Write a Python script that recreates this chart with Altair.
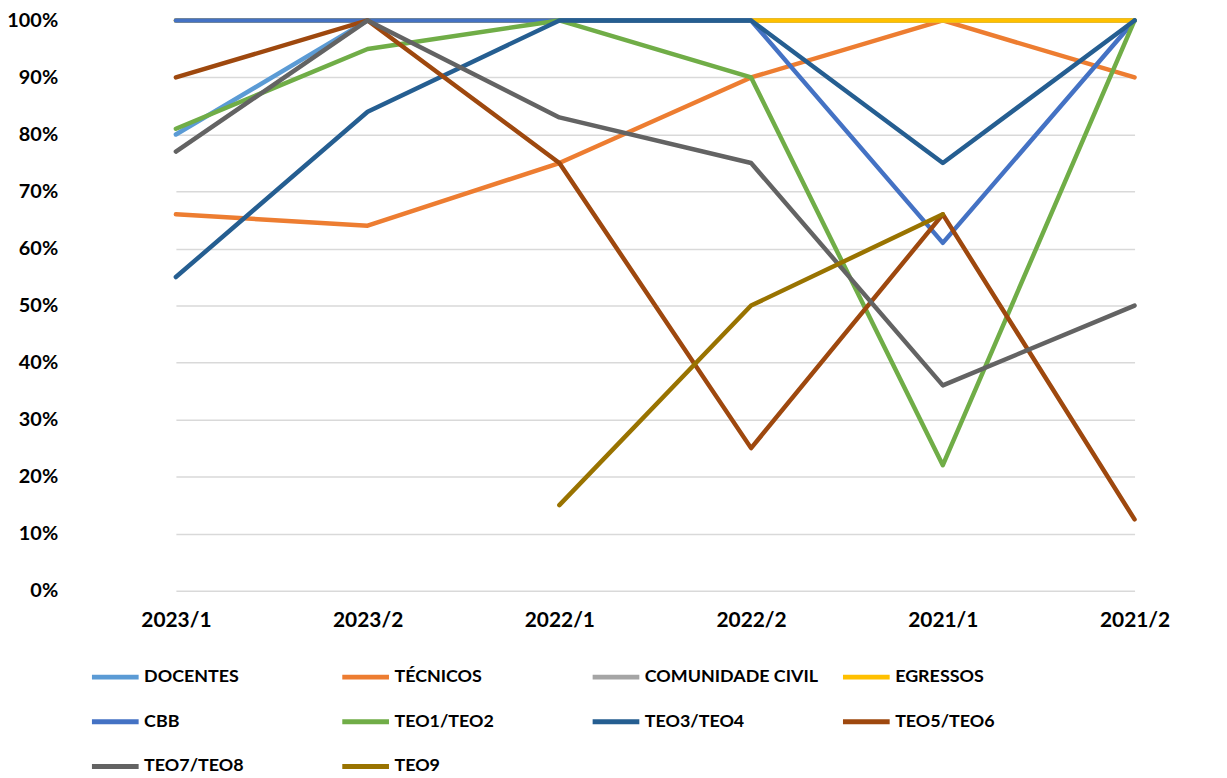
import altair as alt
import pandas as pd

periods = ["2023/1", "2023/2", "2022/1", "2022/2", "2021/1", "2021/2"]
series = ["DOCENTES", "TÉCNICOS", "COMUNIDADE CIVIL", "EGRESSOS", "CBB",
          "TEO1/TEO2", "TEO3/TEO4", "TEO5/TEO6", "TEO7/TEO8", "TEO9"]
colors = ["#5B9BD5", "#ED7D31", "#A5A5A5", "#FFC000", "#4472C4",
          "#70AD47", "#255E91", "#9E480E", "#636363", "#997300"]

docentes = [0.80, 1.00, 1.00, 1.00, 1.00, 1.00]
tecnicos = [0.66, 0.64, 0.75, 0.90, 1.00, 0.90]
comunidade = [1.00, 1.00, 1.00, 1.00, 1.00, 1.00]
egressos = [1.00, 1.00, 1.00, 1.00, 1.00, 1.00]
cbb = [1.00, 1.00, 1.00, 1.00, 0.61, 1.00]
teo12 = [0.81, 0.95, 1.00, 0.90, 0.22, 1.00]
teo34 = [0.55, 0.84, 1.00, 1.00, 0.75, 1.00]
teo56 = [0.90, 1.00, 0.75, 0.25, 0.66, 0.125]
teo78 = [0.77, 1.00, 0.83, 0.75, 0.36, 0.50]
teo9 = [None, None, 0.15, 0.50, 0.66, None]

values = [docentes, tecnicos, comunidade, egressos, cbb, teo12, teo34, teo56, teo78, teo9]

rows = []
for s, vals in zip(series, values):
    for p, v in zip(periods, vals):
        if v is not None:
            rows.append({"serie": s, "periodo": p, "valor": v})
df = pd.DataFrame(rows)

FONT = "Lato"

chart = alt.Chart(df).mark_line(strokeWidth=4.5, strokeCap="round", strokeJoin="round").encode(
    x=alt.X("periodo:N", sort=periods,
            scale=alt.Scale(type="point", range=[95, 1060], padding=0),
            axis=alt.Axis(title=None, labelAngle=0, ticks=False, domain=False, grid=False,
                          labelFont=FONT, labelFontSize=21, labelFontWeight="bold",
                          labelColor="#000000", labelPadding=19)),
    y=alt.Y("valor:Q", scale=alt.Scale(domain=[0, 1], nice=False),
            axis=alt.Axis(title=None, values=[i / 10 for i in range(11)], format=".0%",
                          ticks=False, domain=False, gridColor="#D9D9D9", gridWidth=1.5,
                          labelFont=FONT, labelFontSize=20, labelFontWeight="bold",
                          labelColor="#000000", labelPadding=24)),
    color=alt.Color("serie:N", sort=series,
                    scale=alt.Scale(domain=series, range=colors),
                    legend=alt.Legend(title=None, orient="none", legendX=8, legendY=635,
                                      direction="horizontal",
                                      columns=4, gridAlign="all", columnPadding=14,
                                      rowPadding=9, symbolType="stroke", symbolSize=2209,
                                      symbolStrokeWidth=5, labelOffset=3, labelLimit=400,
                                      labelFont=FONT, labelFontSize=18, labelFontWeight="bold",
                                      labelColor="#000000")),
    order=alt.Order("periodo_idx:Q")
).transform_calculate(
    periodo_idx="indexof(" + str(periods) + ", datum.periodo)"
).properties(
    width=1140, height=574,
    autosize=alt.AutoSizeParams(type="none"),
    padding={"left": 74, "top": 10, "right": 5, "bottom": 182}
).configure_view(stroke=None)

chart.save("out.html", embed_options={"renderer": "svg", "actions": False})
